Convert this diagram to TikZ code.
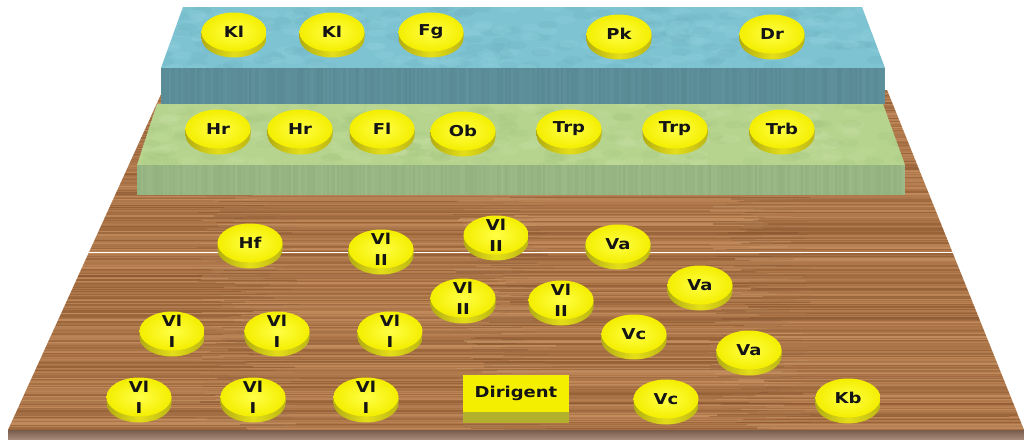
\documentclass[tikz,border=0pt]{standalone}
\usepackage{fontspec}
\newfontfamily\discfont[FakeStretch=1.2]{DejaVu Sans}
\definecolor{wood}{RGB}{176,118,72}
\definecolor{woodD}{RGB}{128,78,42}
\definecolor{woodL}{RGB}{212,162,115}
\definecolor{edgeA}{RGB}{120,92,75}
\definecolor{edgeB}{RGB}{165,135,118}
\definecolor{blueTop}{RGB}{125,195,210}
\definecolor{blueTopL}{RGB}{150,210,222}
\definecolor{blueTopD}{RGB}{110,178,194}
\definecolor{blueFace}{RGB}{95,146,157}
\definecolor{blueFaceD}{RGB}{82,130,140}
\definecolor{greenTop}{RGB}{182,212,142}
\definecolor{greenTopL}{RGB}{200,222,165}
\definecolor{greenTopD}{RGB}{166,198,128}
\definecolor{greenFace}{RGB}{155,186,135}
\definecolor{greenFaceD}{RGB}{138,170,120}
\definecolor{discY}{RGB}{244,238,0}
\definecolor{discYL}{RGB}{255,255,70}
\definecolor{rimD}{RGB}{178,172,20}
\definecolor{rimL}{RGB}{228,222,25}
\definecolor{dirFace}{RGB}{178,176,45}
\definecolor{labelC}{RGB}{20,20,20}
\tikzset{
  disclabel/.style={text=labelC, align=center, inner sep=0pt,
    font=\discfont\bfseries\fontsize{15}{21}\selectfont},
}
\newcommand\orchdisc[4]{%
  \shade[left color=rimD, right color=rimD!80!rimL, middle color=rimL]
    (#2-32.5,#3) rectangle (#2+32.5,#3+6)
    (#2,#3+6) ellipse [x radius=32.5pt, y radius=19.5pt];
  \shade[inner color=discYL, outer color=discY]
    (#2,#3) ellipse [x radius=32.5pt, y radius=19.5pt];
  \node[disclabel] (#1) at (#2,#3) {#4};
}
\begin{document}
\begin{tikzpicture}[x=1pt,y=-1pt]
\useasboundingbox (0,0) rectangle (1024,439);
% ---------- wooden floor ----------
\coordinate (FTL) at (163,90);
\coordinate (FTR) at (887,90);
\coordinate (FBR) at (1024,430);
\coordinate (FBL) at (8,430);
\fill[wood] (FTL) -- (FTR) -- (FBR) -- (FBL) -- cycle;
\begin{scope}
  \clip (FTL) -- (FTR) -- (FBR) -- (FBL) -- cycle;
  \pgfmathsetseed{11}
  \foreach \yy in {90,91.3,...,431}{
    \foreach \xs in {0,256,512,768}{
      \pgfmathtruncatemacro\pp{100*rnd}
      \pgfmathsetmacro\ww{0.5+1.1*rnd}
      \pgfmathsetmacro\dx{60*rnd}
      \draw[woodD!\pp!woodL, line width=\ww pt, opacity=0.5]
        (\xs-\dx,\yy) -- (\xs+300-\dx,\yy);
    }
  }
  \foreach \yy in {208,229,276,318,362,404}{
    \draw[woodD, line width=1.2pt, opacity=0.3] (0,\yy) -- (1024,\yy);
  }
\end{scope}
\draw[white, line width=1pt] (88,252) -- (955,252);
% front edge of the stage
\shade[top color=edgeA, bottom color=edgeB] (8,430) rectangle (1024,439);
% ---------- blue riser ----------
\fill[blueTop] (183,7) -- (862,7) -- (885,68) -- (161,68) -- cycle;
\begin{scope}
  \clip (183,7) -- (862,7) -- (885,68) -- (161,68) -- cycle;
  \pgfmathsetseed{5}
  \foreach \i in {1,...,140}{
    \pgfmathsetmacro\px{161+724*rnd}
    \pgfmathsetmacro\py{7+61*rnd}
    \fill[blueTopL, opacity=0.25] (\px,\py) ellipse [x radius=10pt, y radius=4pt];
    \pgfmathsetmacro\qx{161+724*rnd}
    \pgfmathsetmacro\qy{7+61*rnd}
    \fill[blueTopD, opacity=0.25] (\qx,\qy) ellipse [x radius=10pt, y radius=4pt];
  }
\end{scope}
\fill[blueFace] (161,68) rectangle (885,104);
\pgfmathsetseed{8}
\foreach \xx in {162,164,...,884}{
  \pgfmathtruncatemacro\pp{100*rnd}
  \draw[blueFaceD!\pp!blueFace, line width=1.5pt, opacity=0.5] (\xx,68) -- (\xx,104);
}
% ---------- green riser ----------
\fill[greenTop] (157,104) -- (883,104) -- (905,165) -- (137,165) -- cycle;
\begin{scope}
  \clip (157,104) -- (883,104) -- (905,165) -- (137,165) -- cycle;
  \pgfmathsetseed{9}
  \foreach \i in {1,...,140}{
    \pgfmathsetmacro\px{137+768*rnd}
    \pgfmathsetmacro\py{104+61*rnd}
    \fill[greenTopL, opacity=0.25] (\px,\py) ellipse [x radius=10pt, y radius=4pt];
    \pgfmathsetmacro\qx{137+768*rnd}
    \pgfmathsetmacro\qy{104+61*rnd}
    \fill[greenTopD, opacity=0.25] (\qx,\qy) ellipse [x radius=10pt, y radius=4pt];
  }
\end{scope}
\fill[greenFace] (137,165) rectangle (905,195);
\pgfmathsetseed{4}
\foreach \xx in {138,140,...,904}{
  \pgfmathtruncatemacro\pp{100*rnd}
  \draw[greenFaceD!\pp!greenFace, line width=1.5pt, opacity=0.5] (\xx,165) -- (\xx,195);
}
% ---------- top row ----------
\orchdisc{kl1}{234}{32}{Kl}
\orchdisc{kl2}{332}{32}{Kl}
\orchdisc{fg}{431}{32}{Fg}
\orchdisc{pk}{619}{34}{Pk}
\orchdisc{dr}{772}{34}{Dr}
% ---------- second row ----------
\orchdisc{hr1}{218}{129}{Hr}
\orchdisc{hr2}{300}{129}{Hr}
\orchdisc{fl}{382}{129}{Fl}
\orchdisc{ob}{463}{131}{Ob}
\orchdisc{trp1}{569}{129}{Trp}
\orchdisc{trp2}{675}{129}{Trp}
\orchdisc{trb}{782}{129}{Trb}
% ---------- floor ----------
\orchdisc{hf}{250}{243}{Hf}
\orchdisc{vlb1}{381}{249}{Vl\\II}
\orchdisc{vlb2}{496}{235}{Vl\\II}
\orchdisc{va1}{618}{244}{Va}
\orchdisc{va2}{700}{285}{Va}
\orchdisc{vlb3}{463}{298}{Vl\\II}
\orchdisc{vlb4}{561}{300}{Vl\\II}
\orchdisc{vla1}{172}{331}{Vl\\I}
\orchdisc{vla2}{277}{331}{Vl\\I}
\orchdisc{vla3}{390}{331}{Vl\\I}
\orchdisc{vc1}{634}{334}{Vc}
\orchdisc{va3}{749}{350}{Va}
\orchdisc{vla4}{139}{397}{Vl\\I}
\orchdisc{vla5}{253}{397}{Vl\\I}
\orchdisc{vla6}{366}{397}{Vl\\I}
\orchdisc{vc2}{666}{399}{Vc}
\orchdisc{kb}{848}{398}{Kb}
% conductor
\fill[dirFace] (463,412) rectangle (569,423);
\fill[discY] (463,375) rectangle (569,412);
\node[disclabel] (dir) at (516,393) {Dirigent};
\end{tikzpicture}
\end{document}
